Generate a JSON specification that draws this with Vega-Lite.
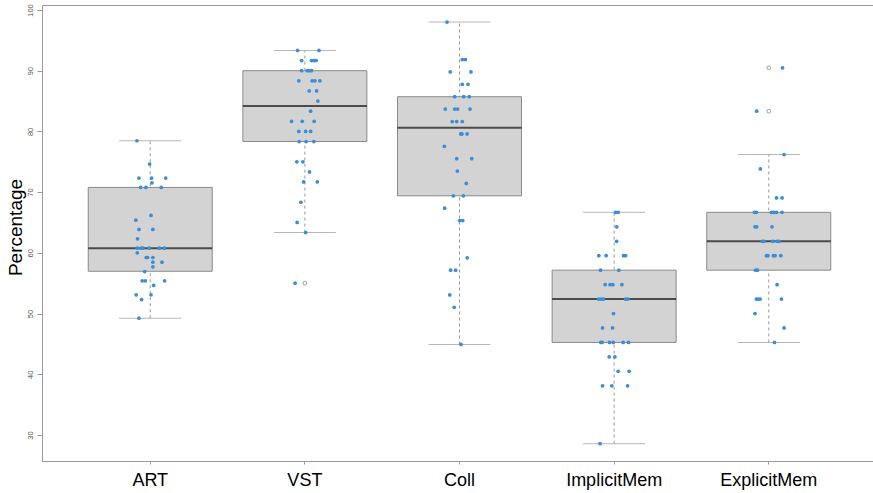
{
  "$schema": "https://vega.github.io/schema/vega-lite/v6.json",
  "width": 835,
  "height": 456,
  "autosize": {"type": "none"},
  "padding": {"left": 42, "top": 5, "right": 0, "bottom": 32},
  "background": "white",
  "config": {
    "view": {"stroke": "#9a9a9a", "strokeWidth": 1},
    "font": "Liberation Sans",
    "axis": {"grid": false, "domainColor": "#9a9a9a", "tickColor": "#9a9a9a"}
  },
  "datasets": {
    "pts": [
      {"g":"ART","v":78.46,"j":-0.086},{"g":"ART","v":74.62,"j":-0.004},{"g":"ART","v":72.31,"j":-0.073},{"g":"ART","v":72.31,"j":0.009},{"g":"ART","v":72.31,"j":0.100},{"g":"ART","v":71.54,"j":0.011},{"g":"ART","v":70.77,"j":-0.062},{"g":"ART","v":70.77,"j":-0.028},{"g":"ART","v":70.77,"j":0.071},{"g":"ART","v":66.15,"j":0.005},{"g":"ART","v":65.38,"j":-0.093},{"g":"ART","v":63.85,"j":-0.073},{"g":"ART","v":63.85,"j":0.017},{"g":"ART","v":62.31,"j":-0.082},{"g":"ART","v":60.77,"j":-0.084},{"g":"ART","v":60.77,"j":-0.058},{"g":"ART","v":60.77,"j":-0.047},{"g":"ART","v":60.77,"j":-0.006},{"g":"ART","v":60.77,"j":0.058},{"g":"ART","v":60.77,"j":0.091},{"g":"ART","v":60.00,"j":-0.084},{"g":"ART","v":59.23,"j":-0.026},{"g":"ART","v":59.23,"j":-0.017},{"g":"ART","v":59.23,"j":0.017},{"g":"ART","v":58.46,"j":0.017},{"g":"ART","v":58.46,"j":0.076},{"g":"ART","v":57.69,"j":0.017},{"g":"ART","v":56.92,"j":-0.036},{"g":"ART","v":55.38,"j":-0.052},{"g":"ART","v":55.38,"j":-0.032},{"g":"ART","v":55.38,"j":0.093},{"g":"ART","v":54.62,"j":0.022},{"g":"ART","v":53.08,"j":-0.091},{"g":"ART","v":53.08,"j":0.005},{"g":"ART","v":52.31,"j":-0.056},{"g":"ART","v":49.23,"j":-0.073},
      {"g":"VST","v":93.33,"j":-0.047},{"g":"VST","v":93.33,"j":0.091},{"g":"VST","v":91.67,"j":-0.021},{"g":"VST","v":91.67,"j":0.043},{"g":"VST","v":91.67,"j":0.058},{"g":"VST","v":91.67,"j":0.073},{"g":"VST","v":90.00,"j":-0.021},{"g":"VST","v":90.00,"j":0.015},{"g":"VST","v":90.00,"j":0.028},{"g":"VST","v":90.00,"j":0.043},{"g":"VST","v":88.33,"j":-0.039},{"g":"VST","v":88.33,"j":0.047},{"g":"VST","v":88.33,"j":0.065},{"g":"VST","v":88.33,"j":0.097},{"g":"VST","v":86.67,"j":0.028},{"g":"VST","v":86.67,"j":0.076},{"g":"VST","v":85.00,"j":0.084},{"g":"VST","v":83.33,"j":0.037},{"g":"VST","v":81.67,"j":-0.086},{"g":"VST","v":81.67,"j":-0.017},{"g":"VST","v":81.67,"j":0.060},{"g":"VST","v":80.00,"j":-0.039},{"g":"VST","v":80.00,"j":0.005},{"g":"VST","v":80.00,"j":0.037},{"g":"VST","v":78.33,"j":-0.037},{"g":"VST","v":78.33,"j":0.008},{"g":"VST","v":78.33,"j":0.058},{"g":"VST","v":75.00,"j":-0.052},{"g":"VST","v":75.00,"j":-0.013},{"g":"VST","v":73.33,"j":0.030},{"g":"VST","v":71.67,"j":-0.008},{"g":"VST","v":71.67,"j":0.080},{"g":"VST","v":68.33,"j":-0.026},{"g":"VST","v":65.00,"j":-0.050},{"g":"VST","v":63.33,"j":0.005},{"g":"VST","v":55.00,"j":-0.063},
      {"g":"Coll","v":98.00,"j":-0.081},{"g":"Coll","v":91.84,"j":0.018},{"g":"Coll","v":91.84,"j":0.038},{"g":"Coll","v":89.80,"j":-0.060},{"g":"Coll","v":89.80,"j":0.074},{"g":"Coll","v":87.76,"j":0.018},{"g":"Coll","v":87.76,"j":0.055},{"g":"Coll","v":85.71,"j":-0.031},{"g":"Coll","v":85.71,"j":0.027},{"g":"Coll","v":85.71,"j":0.063},{"g":"Coll","v":83.67,"j":-0.092},{"g":"Coll","v":83.67,"j":-0.031},{"g":"Coll","v":83.67,"j":-0.012},{"g":"Coll","v":83.67,"j":0.068},{"g":"Coll","v":81.63,"j":-0.047},{"g":"Coll","v":81.63,"j":-0.018},{"g":"Coll","v":81.63,"j":0.018},{"g":"Coll","v":79.59,"j":0.008},{"g":"Coll","v":79.59,"j":0.016},{"g":"Coll","v":79.59,"j":0.049},{"g":"Coll","v":77.55,"j":-0.098},{"g":"Coll","v":75.51,"j":-0.018},{"g":"Coll","v":75.51,"j":0.079},{"g":"Coll","v":73.47,"j":-0.014},{"g":"Coll","v":71.43,"j":0.044},{"g":"Coll","v":69.39,"j":-0.040},{"g":"Coll","v":69.39,"j":0.025},{"g":"Coll","v":67.35,"j":-0.096},{"g":"Coll","v":65.31,"j":0.001},{"g":"Coll","v":65.31,"j":0.021},{"g":"Coll","v":59.18,"j":0.050},{"g":"Coll","v":57.14,"j":-0.057},{"g":"Coll","v":57.14,"j":-0.025},{"g":"Coll","v":53.06,"j":-0.063},{"g":"Coll","v":51.02,"j":-0.034},{"g":"Coll","v":44.90,"j":0.010},
      {"g":"ImplicitMem","v":66.67,"j":0.009},{"g":"ImplicitMem","v":66.67,"j":0.026},{"g":"ImplicitMem","v":64.29,"j":0.017},{"g":"ImplicitMem","v":61.90,"j":0.016},{"g":"ImplicitMem","v":59.52,"j":-0.099},{"g":"ImplicitMem","v":59.52,"j":-0.052},{"g":"ImplicitMem","v":59.52,"j":0.061},{"g":"ImplicitMem","v":59.52,"j":0.074},{"g":"ImplicitMem","v":57.14,"j":-0.088},{"g":"ImplicitMem","v":57.14,"j":0.030},{"g":"ImplicitMem","v":54.76,"j":-0.058},{"g":"ImplicitMem","v":54.76,"j":-0.026},{"g":"ImplicitMem","v":54.76,"j":-0.008},{"g":"ImplicitMem","v":54.76,"j":0.050},{"g":"ImplicitMem","v":52.38,"j":-0.101},{"g":"ImplicitMem","v":52.38,"j":-0.084},{"g":"ImplicitMem","v":52.38,"j":-0.069},{"g":"ImplicitMem","v":52.38,"j":0.074},{"g":"ImplicitMem","v":52.38,"j":0.089},{"g":"ImplicitMem","v":50.00,"j":-0.004},{"g":"ImplicitMem","v":47.62,"j":-0.075},{"g":"ImplicitMem","v":47.62,"j":-0.010},{"g":"ImplicitMem","v":45.24,"j":-0.086},{"g":"ImplicitMem","v":45.24,"j":-0.078},{"g":"ImplicitMem","v":45.24,"j":-0.030},{"g":"ImplicitMem","v":45.24,"j":-0.006},{"g":"ImplicitMem","v":45.24,"j":0.058},{"g":"ImplicitMem","v":45.24,"j":0.093},{"g":"ImplicitMem","v":42.86,"j":-0.032},{"g":"ImplicitMem","v":42.86,"j":0.005},{"g":"ImplicitMem","v":40.48,"j":0.026},{"g":"ImplicitMem","v":40.48,"j":0.097},{"g":"ImplicitMem","v":38.10,"j":-0.075},{"g":"ImplicitMem","v":38.10,"j":-0.015},{"g":"ImplicitMem","v":38.10,"j":0.087},{"g":"ImplicitMem","v":28.57,"j":-0.091},
      {"g":"ExplicitMem","v":90.48,"j":0.089},{"g":"ExplicitMem","v":83.33,"j":-0.078},{"g":"ExplicitMem","v":76.19,"j":0.099},{"g":"ExplicitMem","v":73.81,"j":-0.054},{"g":"ExplicitMem","v":69.05,"j":0.050},{"g":"ExplicitMem","v":69.05,"j":0.086},{"g":"ExplicitMem","v":66.67,"j":-0.093},{"g":"ExplicitMem","v":66.67,"j":-0.080},{"g":"ExplicitMem","v":66.67,"j":0.017},{"g":"ExplicitMem","v":66.67,"j":0.032},{"g":"ExplicitMem","v":66.67,"j":0.050},{"g":"ExplicitMem","v":66.67,"j":0.086},{"g":"ExplicitMem","v":64.29,"j":-0.089},{"g":"ExplicitMem","v":64.29,"j":-0.078},{"g":"ExplicitMem","v":64.29,"j":0.021},{"g":"ExplicitMem","v":61.90,"j":-0.041},{"g":"ExplicitMem","v":61.90,"j":-0.030},{"g":"ExplicitMem","v":61.90,"j":0.026},{"g":"ExplicitMem","v":61.90,"j":0.054},{"g":"ExplicitMem","v":61.90,"j":0.067},{"g":"ExplicitMem","v":59.52,"j":-0.015},{"g":"ExplicitMem","v":59.52,"j":-0.005},{"g":"ExplicitMem","v":59.52,"j":0.030},{"g":"ExplicitMem","v":59.52,"j":0.041},{"g":"ExplicitMem","v":59.52,"j":0.078},{"g":"ExplicitMem","v":57.14,"j":-0.086},{"g":"ExplicitMem","v":57.14,"j":-0.073},{"g":"ExplicitMem","v":54.76,"j":0.054},{"g":"ExplicitMem","v":52.38,"j":-0.080},{"g":"ExplicitMem","v":52.38,"j":-0.069},{"g":"ExplicitMem","v":52.38,"j":-0.056},{"g":"ExplicitMem","v":52.38,"j":0.082},{"g":"ExplicitMem","v":50.00,"j":-0.089},{"g":"ExplicitMem","v":47.62,"j":0.099},{"g":"ExplicitMem","v":45.24,"j":0.037}
    ],
    "stats": [
      {"g":"ART","lo":49.23,"q1":56.96,"med":60.77,"q3":70.77,"hi":78.46},
      {"g":"VST","lo":63.33,"q1":78.33,"med":84.17,"q3":90.00,"hi":93.33},
      {"g":"Coll","lo":44.90,"q1":69.39,"med":80.61,"q3":85.71,"hi":98.00},
      {"g":"ImplicitMem","lo":28.57,"q1":45.24,"med":52.38,"q3":57.14,"hi":66.67},
      {"g":"ExplicitMem","lo":45.24,"q1":57.14,"med":61.90,"q3":66.67,"hi":76.19}
    ],
    "outl": [
      {"g":"VST","v":55.00},
      {"g":"ExplicitMem","v":83.33},
      {"g":"ExplicitMem","v":90.48}
    ]
  },
  "encoding": {
    "x": {
      "field": "g", "type": "nominal",
      "sort": ["ART","VST","Coll","ImplicitMem","ExplicitMem"],
      "scale": {"domain": ["ART","VST","Coll","ImplicitMem","ExplicitMem"], "paddingInner": 0, "paddingOuter": 0.2},
      "axis": {"title": null, "labelAngle": 0, "labelFontSize": 18, "labelColor": "#000", "labelPadding": 7, "tickSize": 3, "labelFont": "Liberation Sans"}
    }
  },
  "layer": [
    {
      "data": {"name": "stats"},
      "mark": {"type": "rule", "color": "#9a9a9a", "strokeDash": [3, 3], "strokeWidth": 1},
      "encoding": {
        "y": {"field": "lo", "type": "quantitative",
          "scale": {"domain": [25.71, 100.82], "nice": false, "zero": false},
          "axis": {"title": "Percentage", "values": [30,40,50,60,70,80,90,100], "labelAngle": 270, "labelAlign": "center", "labelBaseline": "bottom", "labelFontSize": 7.5, "labelColor": "#555", "labelPadding": 3, "tickSize": 5, "titleFontSize": 19, "titleFontWeight": "normal", "titleColor": "#000", "titleFont": "Liberation Sans", "titleBaseline": "alphabetic", "titleX": -21, "titleY": 222, "titleAngle": 270}},
        "y2": {"field": "hi"}
      }
    },
    {
      "data": {"name": "stats"},
      "mark": {"type": "tick", "color": "#9a9a9a", "size": 62, "thickness": 1},
      "encoding": {"y": {"field": "lo", "type": "quantitative"}}
    },
    {
      "data": {"name": "stats"},
      "mark": {"type": "tick", "color": "#9a9a9a", "size": 62, "thickness": 1},
      "encoding": {"y": {"field": "hi", "type": "quantitative"}}
    },
    {
      "data": {"name": "stats"},
      "mark": {"type": "bar", "size": 124, "fill": "#d3d3d3", "stroke": "#8a8a8a", "strokeWidth": 1},
      "encoding": {"y": {"field": "q1", "type": "quantitative"}, "y2": {"field": "q3"}}
    },
    {
      "data": {"name": "stats"},
      "mark": {"type": "tick", "color": "#111", "size": 124, "thickness": 2},
      "encoding": {"y": {"field": "med", "type": "quantitative"}}
    },
    {
      "data": {"name": "outl"},
      "mark": {"type": "point", "shape": "circle", "filled": false, "stroke": "#666", "strokeWidth": 0.9, "size": 14},
      "encoding": {"y": {"field": "v", "type": "quantitative"}}
    },
    {
      "data": {"name": "pts"},
      "mark": {"type": "circle", "color": "#3a8dd8", "opacity": 1, "size": 14},
      "encoding": {
        "y": {"field": "v", "type": "quantitative"},
        "xOffset": {"field": "j", "type": "quantitative", "scale": {"domain": [-0.5, 0.5]}}
      }
    }
  ]
}
